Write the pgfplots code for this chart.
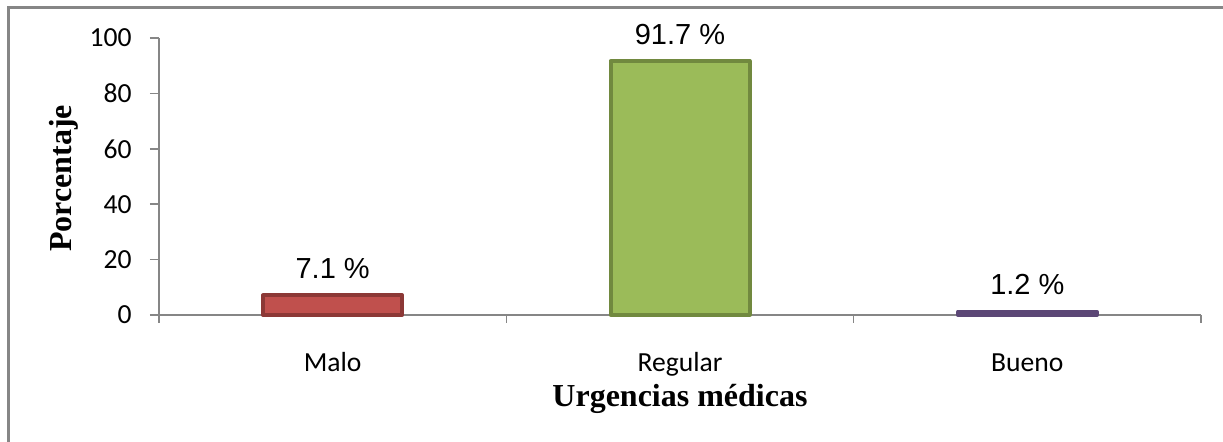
\documentclass[border=0pt]{standalone}
\usepackage{fontspec}
\setmainfont{Carlito}
\newfontfamily\arialf{Liberation Sans}
\newfontfamily\tnrf{Liberation Serif}
\usepackage{pgfplots}
\pgfplotsset{compat=1.18}
\definecolor{axgray}{HTML}{868686}
\definecolor{redf}{HTML}{C0504D}
\definecolor{rede}{HTML}{8C3836}
\definecolor{grnf}{HTML}{9BBB59}
\definecolor{grne}{HTML}{71893F}
\definecolor{purf}{HTML}{8064A2}
\definecolor{pure}{HTML}{5C4776}
\begin{document}
\begin{tikzpicture}
\useasboundingbox (-79.5pt,-63.5pt) rectangle (532pt,157.5pt);
\draw[axgray, line width=1.1pt] (-75.25pt,-70pt) -- (-75.25pt,153.75pt) -- (540pt,153.75pt);
\begin{axis}[
  at={(0pt,0pt)}, anchor=south west,
  scale only axis, width=521pt, height=138.5pt,
  xmin=-0.5, xmax=2.5, ymin=0, ymax=100,
  enlargelimits=false, clip=false,
  axis lines*=left,
  axis line style={axgray, line width=0.75pt},
  xtick={0,1,2}, xticklabels={Malo,Regular,Bueno},
  minor xtick={-0.5,0.5,1.5,2.5},
  ytick={0,20,...,100},
  tick align=outside,
  major tick length=4.5pt, minor tick length=4pt,
  tick style={axgray, line width=0.75pt},
  major x tick style={draw=none},
  /pgf/number format/assume math mode=true,
  ticklabel style={font=\fontsize{13.8}{14}\selectfont, inner sep=0pt},
  xticklabel style={anchor=base, yshift=-24pt},
  yticklabel style={anchor=east, xshift=-9pt},
  xlabel={Urgencias médicas},
  ylabel={Porcentaje},
  xlabel style={font=\tnrf\bfseries\fontsize{16}{16}\selectfont, at={(axis description cs:0.5,0)}, anchor=base, yshift=-46pt, inner sep=0pt},
  ylabel style={font=\tnrf\bfseries\fontsize{16}{16}\selectfont, at={([xshift=-43.5pt,yshift=-1pt]axis description cs:0,0.5)}, anchor=base, inner sep=0pt},
  ybar, bar width=69.5pt, bar shift=0pt,
  nodes near coords={\pgfmathprintnumber[fixed,fixed zerofill,precision=1]{\pgfplotspointmeta}~\%},
  nodes near coords style={font=\arialf\fontsize{14.5}{15}\selectfont, text=black, anchor=base, inner sep=0pt, yshift=8.4pt},
]
\addplot[fill=redf, draw=rede, line width=2pt, line join=round] coordinates {(0,7.1)};
\addplot[fill=grnf, draw=grne, line width=2pt, line join=round] coordinates {(1,91.7)};
\addplot[fill=purf, draw=pure, line width=2pt, line join=round] coordinates {(2,1.2)};
\end{axis}
\end{tikzpicture}
\end{document}
